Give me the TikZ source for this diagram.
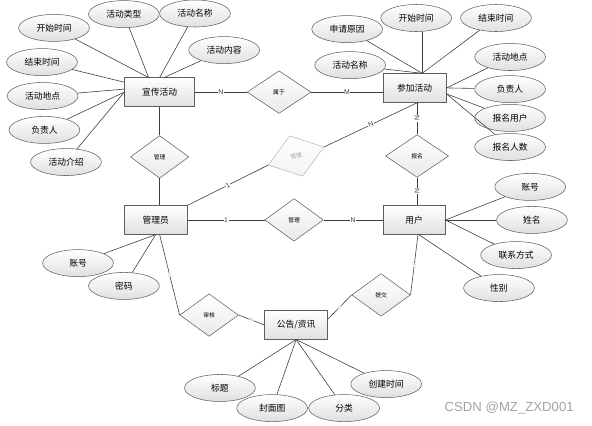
\documentclass[tikz,border=0pt]{standalone}
\usepackage{fontspec}
\setsansfont{Liberation Sans}
\newfontfamily\cjk{Noto Sans CJK SC}
\usetikzlibrary{shapes.geometric,calc}
\definecolor{ink}{HTML}{3C3C3C}
\definecolor{edge}{HTML}{5E5E5E}
\definecolor{shadeb}{HTML}{E0E0E0}
\definecolor{faint}{HTML}{A6A6A6}
\definecolor{wm}{HTML}{A3A3A3}
\tikzset{
  font=\cjk\fontsize{8.3}{10}\selectfont,
  entity/.style={rectangle, draw=edge, line width=0.7pt, top color=white, bottom color=shadeb, minimum width=2.1cm, minimum height=0.95cm, inner sep=1pt},
  attr/.style={ellipse, draw=edge, line width=0.5pt, top color=white, bottom color=shadeb, minimum width=2.36cm, minimum height=0.9cm, inner sep=0pt},
  rel/.style={diamond, draw=edge, line width=0.5pt, top color=white, bottom color=shadeb!70, minimum width=1.95cm, minimum height=1.42cm, inner sep=0pt, font=\cjk\fontsize{5.5}{6}\selectfont},
  relgrey/.style={rel, draw=faint!80, text=faint, bottom color=black!5},
  link/.style={draw=ink, line width=0.55pt},
  card/.style={font=\sffamily\fontsize{6.5}{7}\selectfont, fill=white, inner sep=0.5pt, text=ink},
  tinycard/.style={font=\sffamily\fontsize{4}{4}\selectfont, fill=white, inner sep=0.3pt, text=faint},
}
\begin{document}
\begin{tikzpicture}
\useasboundingbox (0,0) rectangle (19.73,-14.17);
% --- entities (absolute coordinates, cm)
\node[entity, minimum width=2.33cm] (xc) at (5.32,-3.07) {宣传活动};
\node[entity] (cj) at (13.82,-2.93) {参加活动};
\node[entity] (gly) at (5.19,-7.33) {管理员};
\node[entity, minimum width=2.07cm] (yh) at (13.80,-7.33) {用户};
\node[entity] (gg) at (9.87,-10.83) {公告/资讯};
% --- relations
\node[rel, minimum width=2.13cm] (sy) at (9.30,-3.07) {属于};
\node[rel] (gl1) at (5.32,-5.23) {管理};
\node[relgrey, rotate=18] (gl2) at (9.87,-5.20) {管理};
\node[rel, minimum width=2.1cm] (bm) at (13.90,-5.20) {报名};
\node[rel] (gl3) at (9.80,-7.33) {管理};
\node[rel] (sh) at (6.97,-10.50) {审核};
\node[rel] (tj) at (12.70,-9.83) {提交};
% --- attributes of 宣传活动
\node[attr] (a1) at (1.80,-0.93) {开始时间};
\node[attr] (a2) at (4.13,-0.47) {活动类型};
\node[attr] (a3) at (6.50,-0.45) {活动名称};
\node[attr] (a4) at (7.47,-1.67) {活动内容};
\node[attr] (a5) at (1.40,-2.07) {结束时间};
\node[attr] (a6) at (1.42,-3.20) {活动地点};
\node[attr] (a7) at (1.48,-4.33) {负责人};
\node[attr] (a8) at (2.20,-5.40) {活动介绍};
% --- attributes of 参加活动
\node[attr] (b1) at (11.57,-0.97) {申请原因};
\node[attr] (b2) at (13.87,-0.60) {开始时间};
\node[attr] (b3) at (16.53,-0.60) {结束时间};
\node[attr] (b4) at (11.67,-2.17) {活动名称};
\node[attr] (b5) at (17.00,-1.90) {活动地点};
\node[attr] (b6) at (17.00,-2.97) {负责人};
\node[attr] (b7) at (17.00,-3.93) {报名用户};
\node[attr] (b8) at (17.00,-4.90) {报名人数};
% --- attributes of 管理员, 用户, 公告/资讯
\node[attr] (c1) at (2.60,-8.77) {账号};
\node[attr] (c2) at (4.13,-9.53) {密码};
\node[attr] (d1) at (17.67,-6.23) {账号};
\node[attr] (d2) at (17.73,-7.33) {姓名};
\node[attr] (d3) at (17.20,-8.50) {联系方式};
\node[attr] (d4) at (16.63,-9.60) {性别};
\node[attr] (e1) at (7.33,-12.93) {标题};
\node[attr] (e2) at (9.07,-13.60) {封面图};
\node[attr] (e3) at (11.47,-13.60) {分类};
\node[attr] (e4) at (12.87,-12.80) {创建时间};
\node[font=\sffamily\fontsize{12.5}{14}\selectfont, text=wm] (mark) at (16.97,-13.60) {CSDN @MZ\_ZXD001};
% --- attribute links
\draw[link] (a1) -- ([xshift=-0.37cm]xc.north);
\draw[link] (a2) -- ([xshift=-0.37cm]xc.north);
\draw[link] (a3) -- (xc.north);
\draw[link] (a4) -- ([xshift=0.15cm]xc.north);
\draw[link] (a5) -- ([yshift=0.33cm]xc.west);
\draw[link] (a6) -- ([yshift=0.1cm]xc.west);
\draw[link] (a7) -- (xc.west);
\draw[link] (a8) -- (xc.west);
\draw[link] (b1) -- ([xshift=0.25cm]cj.north);
\draw[link] ([xshift=0.25cm]cj.north) -- ([xshift=0.25cm]cj.north |- b2.south);
\draw[link] (b3) -- ([xshift=0.25cm]cj.north);
\draw[link] (b4) -- ([xshift=0.25cm]cj.north);
\foreach \n in {b5, b6} {\draw[link] (\n) -- (cj.east);}
\foreach \n in {b7, b8} {\draw[link] (\n) -- ([yshift=-0.2cm]cj.east);}
\foreach \n in {c1, c2} {\draw[link] (\n) -- (gly.south);}
\foreach \n in {d1, d2, d3} {\draw[link] (\n) -- (yh.east);}
\draw[link] (d4) -- ([xshift=0.15cm]yh.south);
\foreach \n in {e1, e2, e3, e4} {\draw[link] (\n) -- (gg.south);}
% --- relation links
\draw[link] (xc.east) -- node[card] {N} (sy.west);
\draw[link] (sy.east) -- node[card] {M} (sy.east -| cj.west);
\draw[link] (xc.south -| gl1.north) -- (gl1.north);
\draw[link] (gl1.south) -- (gl1.south |- gly.north);
\draw[link] (gly.north east) -- node[card, sloped] {1} (gl2.west);
\draw[link] (gl2.east) -- node[card, sloped] {N} ([xshift=0.1cm]cj.south);
\draw[link] (bm.north |- cj.south) -- node[card, rotate=90] {N} (bm.north);
\draw[link] (bm.south) -- node[card, rotate=90] {N} (bm.south |- yh.north);
\draw[link] (gly.east) -- node[card] {1} (gl3.west);
\draw[link] (gl3.east) -- node[card] {N} (yh.west);
\draw[link] ([xshift=0.13cm]gly.south) -- node[tinycard, sloped] {1} (sh.west);
\draw[link] (sh.east) -- node[tinycard, sloped] {N} (gg.west);
\draw[link] ([xshift=0.13cm]yh.south) -- node[tinycard, sloped] {1} (tj.east);
\draw[link] (tj.west) -- node[tinycard, sloped] {N} ([yshift=0.2cm]gg.east);
\end{tikzpicture}
\end{document}
